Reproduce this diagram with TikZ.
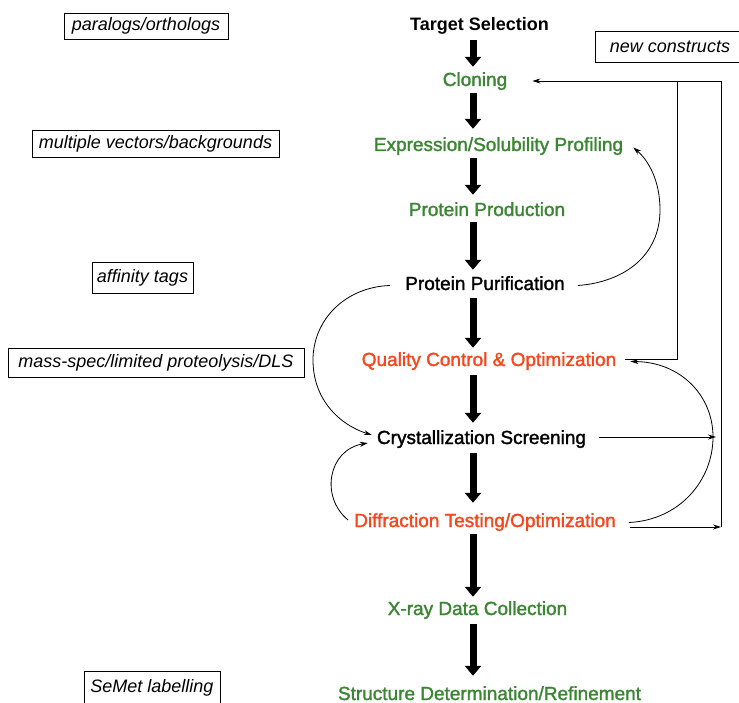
\documentclass[tikz,border=0pt]{standalone}
\usepackage{fontspec}
\setmainfont{Liberation Sans}
\newfontfamily\stepfont{Liberation Sans}[FakeBold=1.6]
\usetikzlibrary{arrows.meta}
\definecolor{stepgreen}{RGB}{58,134,50}
\definecolor{stepred}{RGB}{245,70,30}
\begin{document}
\begin{tikzpicture}[x=1pt,y=-1pt,
  stepnode/.style={inner sep=0pt, text height=13pt, text depth=4pt, font=\fontsize{19}{22}\stepfont, anchor=base},
  notebox/.style={draw, line width=0.9pt, inner sep=0pt, font=\fontsize{18}{21}\selectfont\itshape},
  bigarrow/.style={line width=7pt, -{Triangle[width=16pt,length=10pt]}},
  fb/.style={line width=0.8pt},
  fbarrow/.style={line width=0.8pt, -{Stealth[length=8pt,width=5pt]}}]

\useasboundingbox (0,0) rectangle (739,703);

% main steps
\node[stepnode, font=\fontsize{18}{21}\selectfont\bfseries] (tgt) at (479.5,31) {Target Selection};
\node[stepnode, text=stepgreen] (clo) at (475,86) {Cloning};
\node[stepnode, text=stepgreen] (exp) at (498.5,151) {Expression/Solubility Profiling};
\node[stepnode, text=stepgreen] (prod) at (487,216) {Protein Production};
\node[stepnode] (pur) at (485,290) {Protein Purification};
\node[stepnode, text=stepred] (qc) at (489,366) {Quality Control \& Optimization};
\node[stepnode] (cry) at (481.5,444) {Crystallization Screening};
\node[stepnode, text=stepred] (dif) at (485,527) {Diffraction Testing/Optimization};
\node[stepnode, text=stepgreen] (xray) at (477.5,615) {X-ray Data Collection};
\node[stepnode, text=stepgreen] (str) at (489.5,700) {Structure Determination/Refinement};

% note boxes
\node[notebox, minimum width=164pt, minimum height=26pt] (b1) at (146,26) {paralogs/orthologs};
\node[notebox, minimum width=247pt, minimum height=27pt] (b2) at (155.5,143.5) {multiple vectors/backgrounds};
\node[notebox, minimum width=101pt, minimum height=31pt] (b3) at (142.5,277.5) {affinity tags};
\node[notebox, minimum width=296pt, minimum height=29pt] (b4) at (156,362.5) {mass-spec/limited proteolysis/DLS};
\node[notebox, minimum width=136pt, minimum height=34pt] (b5) at (152,688) {SeMet labelling};
\node[notebox, minimum width=150pt, minimum height=31pt] (b6) at (670,46.5) {new constructs};

% main flow arrows
\coordinate (ax) at (473,0);
\draw[bigarrow, shorten <=5pt, shorten >=6pt] (tgt.south -| ax) -- (clo.north -| ax);
\draw[bigarrow, shorten <=3pt, shorten >=9pt] (clo.south -| ax) -- (exp.north -| ax);
\draw[bigarrow, shorten <=3pt, shorten >=8pt] (exp.south -| ax) -- (prod.north -| ax);
\draw[bigarrow, shorten <=2pt, shorten >=7pt] (prod.south -| ax) -- (pur.north -| ax);
\draw[bigarrow, shorten <=4pt, shorten >=5pt] (pur.south -| ax) -- (qc.north -| ax);
\draw[bigarrow, shorten <=5pt, shorten >=8pt] (qc.south -| ax) -- (cry.north -| ax);
\draw[bigarrow, shorten <=5pt, shorten >=11pt] (cry.south -| ax) -- (dif.north -| ax);
\draw[bigarrow, shorten <=3pt, shorten >=5pt] (dif.south -| ax) -- (xray.north -| ax);
\draw[bigarrow, shorten <=5pt, shorten >=11pt] (xray.south -| ax) -- (str.north -| ax);

% feedback lines on the right
\coordinate (jq) at (677,81);
\coordinate (jd) at (721,81);
\coordinate (dR) at (721,527);
\coordinate (cR) at (716,437);
\draw[fb] ([xshift=9pt,yshift=2.5pt]qc.east) -| (jq);
\draw[fb] (dR) -- (jd);
\draw[fbarrow] (jd) -- ([xshift=25pt,yshift=0.5pt]clo.east);
\draw[fbarrow] ([xshift=14pt,yshift=-4.5pt]dif.east) -- (dR);
\draw[fbarrow] ([xshift=13pt,yshift=2.5pt]cry.east) -- (cR);

% curved loops
\draw[fbarrow] ([xshift=13pt]pur.east) .. controls (625,282) and (660,255) .. (660,210)
  .. controls (660,180) and (648,160) .. ([xshift=10pt,yshift=-1pt]exp.east);
\draw[fbarrow] ([xshift=13pt]dif.east) .. controls (680,520) and (713,480) .. (713,437)
  .. controls (713,395) and (680,362) .. ([xshift=14pt]qc.east);
\draw[fbarrow] ([xshift=-15pt]pur.west) .. controls (345,287) and (313,320) .. (313,360)
  .. controls (313,400) and (340,425) .. ([xshift=-5pt,yshift=4.5pt]cry.west);
\draw[fbarrow] ([xshift=-6pt,yshift=2.5pt]dif.west) .. controls (320,497) and (328,450) .. ([xshift=-9pt,yshift=-3.5pt]cry.west);
\end{tikzpicture}
\end{document}
